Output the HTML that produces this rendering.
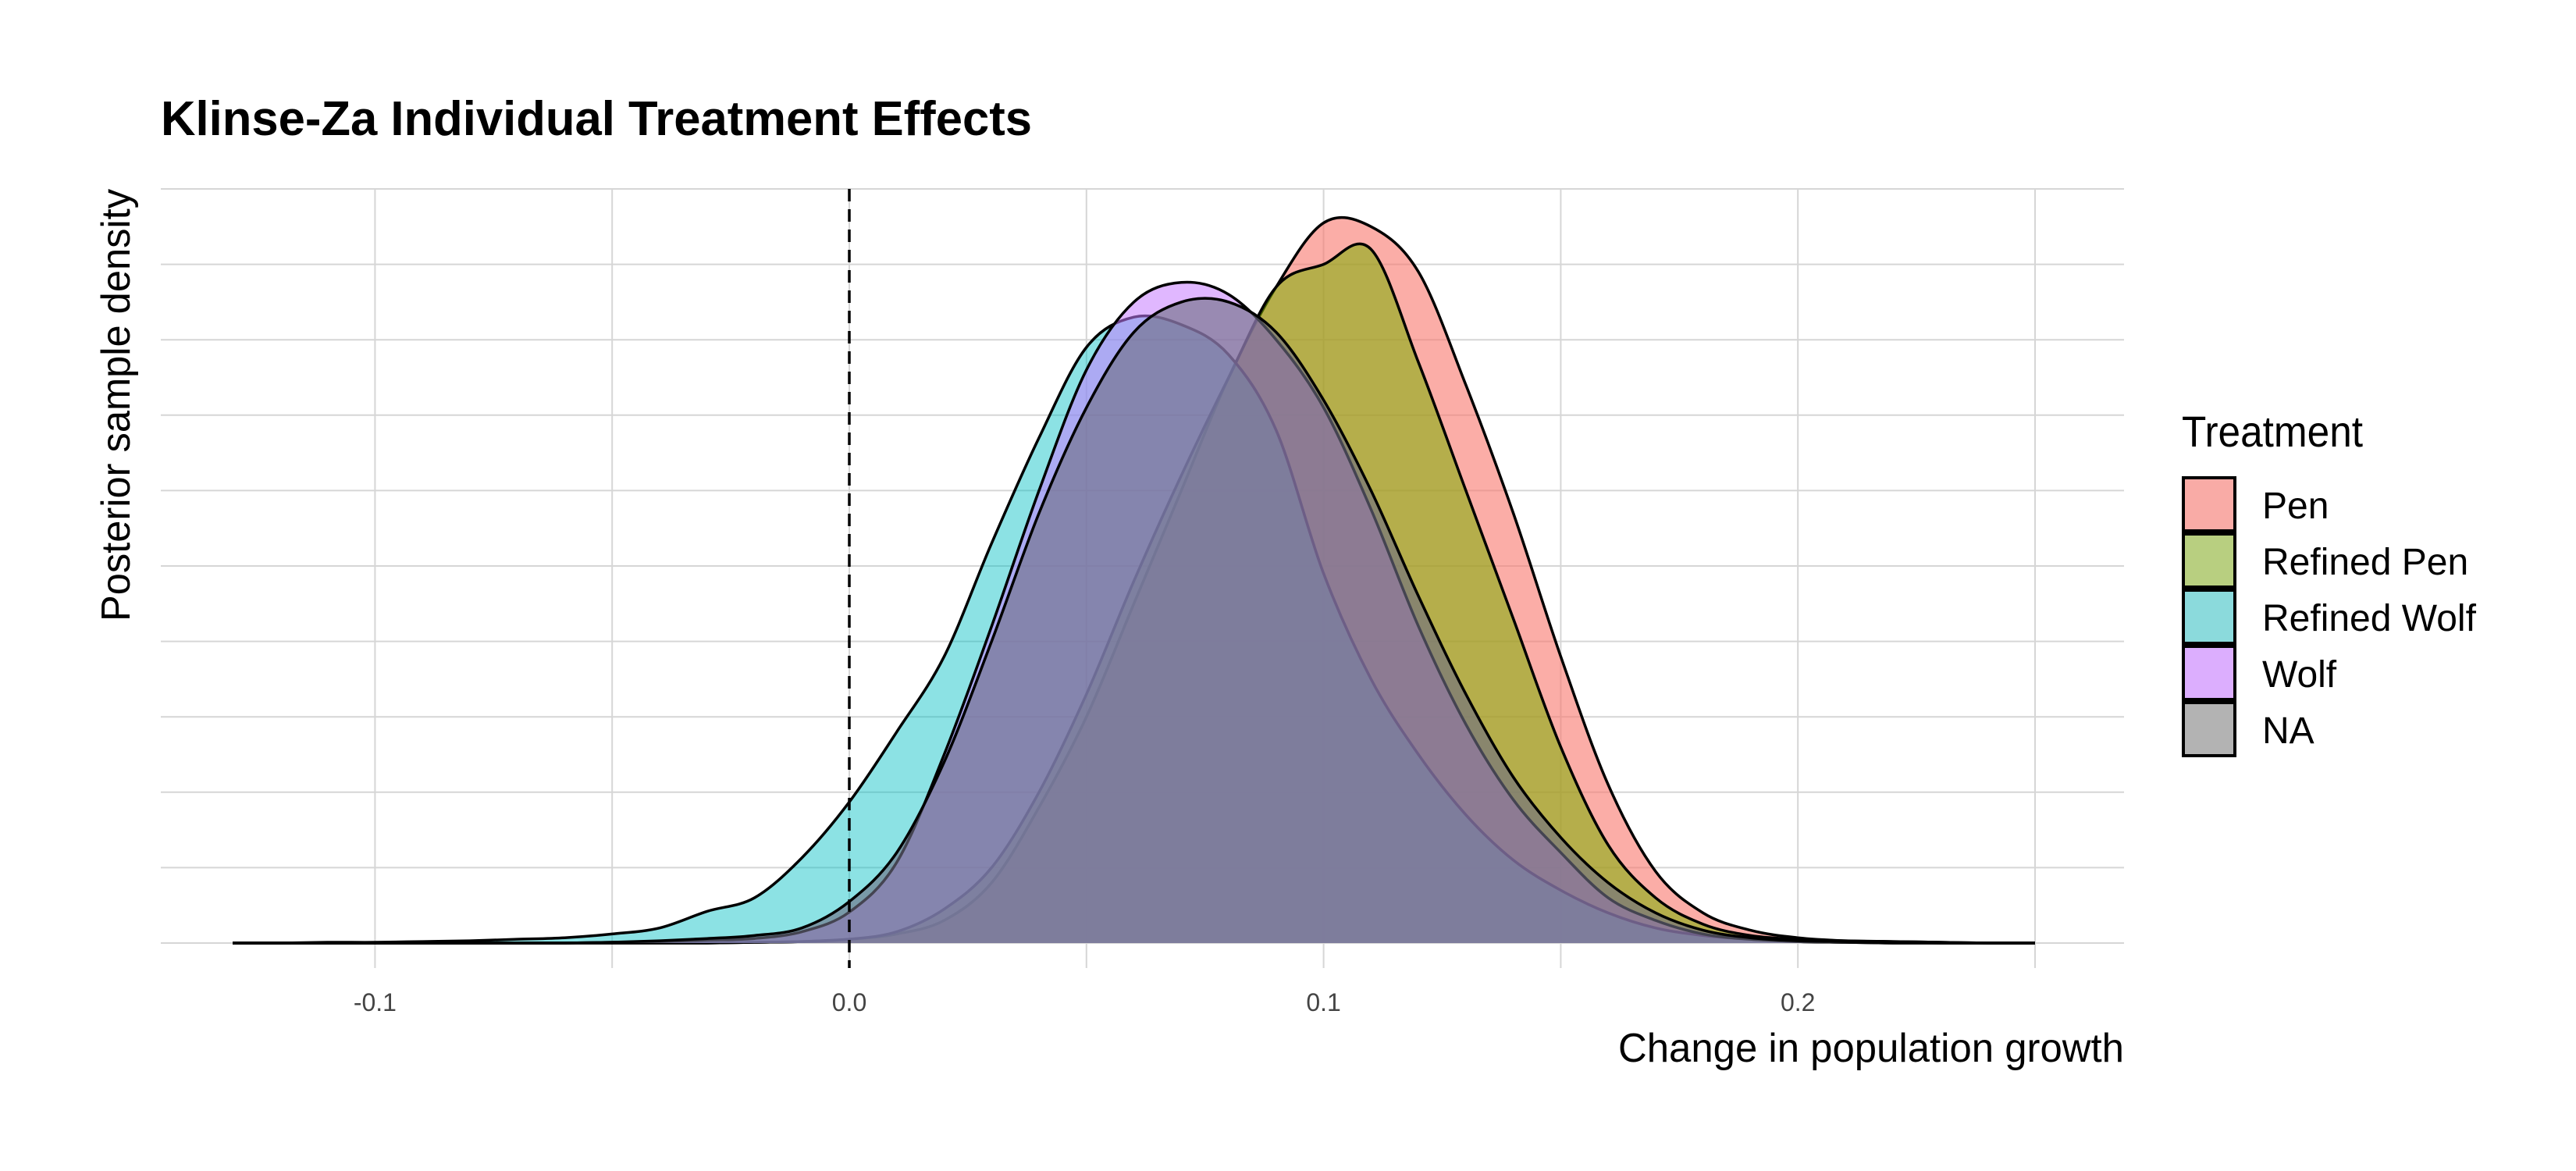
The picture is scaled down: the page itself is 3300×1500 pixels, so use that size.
<!DOCTYPE html>
<html><head><meta charset="utf-8"><style>
html,body{margin:0;padding:0;background:#fff}
svg{display:block}
text{font-family:"Liberation Sans",sans-serif;fill:#000}
</style></head><body>
<svg id="chart" width="3300" height="1500" viewBox="0 0 3300 1500">
<text x="206" y="173" font-size="62" font-weight="bold" textLength="1116" lengthAdjust="spacingAndGlyphs">Klinse-Za Individual Treatment Effects</text>
<g id="grid"></g>
<g id="series"></g>
<line id="zeroline" stroke="#000" stroke-width="3.5" stroke-dasharray="16,10"></line>
<g id="xticks"></g>
<text x="166" y="519" font-size="52" text-anchor="middle" transform="rotate(-90 166 519)" textLength="554" lengthAdjust="spacingAndGlyphs">Posterior sample density</text>
<text x="2721" y="1360" font-size="52" text-anchor="end" textLength="648" lengthAdjust="spacingAndGlyphs">Change in population growth</text>
<g>
<text x="2795" y="572" font-size="56" textLength="232" lengthAdjust="spacingAndGlyphs">Treatment</text>
<g id="legend-items"></g>
</g>
</svg>
<script>
const xs = [-0.13,-0.12,-0.11,-0.10,-0.09,-0.08,-0.07,-0.06,-0.05,-0.04,-0.03,-0.02,-0.01,0.00,0.01,0.02,0.03,0.04,0.05,0.06,0.07,0.08,0.09,0.10,0.11,0.12,0.13,0.14,0.15,0.16,0.17,0.18,0.19,0.20,0.21,0.22,0.23,0.24,0.25];
const seriesNames = ["Pen","Refined Pen","Refined Wolf","Wolf","NA"];
const penVals =        [0,0,0,0,0,0,0,0,0,0,0,0.01,0.02,0.05,0.12,0.3,0.8,1.8,3.0,4.5,6.0,7.5,8.7,9.55,9.5,8.9,7.4,5.7,3.8,2.1,0.95,0.4,0.17,0.07,0.03,0.02,0.01,0,0];
const refPenVals =     [0,0,0,0,0,0,0,0,0,0,0,0.01,0.02,0.05,0.15,0.45,1.0,2.0,3.3,4.8,6.2,7.5,8.7,9.0,9.2,7.7,6.0,4.3,2.6,1.3,0.6,0.25,0.1,0.05,0.03,0.02,0.01,0,0];
const refWolfVals =    [0,0,0.01,0.01,0.02,0.03,0.05,0.07,0.12,0.2,0.42,0.6,1.13,1.87,2.8,3.8,5.3,6.7,7.9,8.3,8.2,7.8,6.8,4.9,3.5,2.5,1.7,1.1,0.7,0.4,0.2,0.1,0.05,0.02,0.01,0,0,0,0];
const wolfVals =       [0,0,0,0,0,0,0,0,0.01,0.02,0.04,0.06,0.15,0.41,1.07,2.5,4.2,6.0,7.6,8.5,8.76,8.6,8.0,7.1,5.75,4.2,2.9,1.9,1.2,0.6,0.3,0.12,0.05,0.02,0.01,0,0,0,0];
const naVals =         [0,0,0,0,0,0,0,0,0.01,0.03,0.06,0.1,0.2,0.55,1.2,2.4,4.0,5.7,7.1,8.1,8.5,8.5,8.1,7.2,6.0,4.6,3.3,2.2,1.4,0.8,0.4,0.17,0.07,0.03,0.02,0.01,0,0,0];
const xTickVals = [-0.1,0.0,0.1,0.2];
const xTickLabels = ["-0.1","0.0","0.1","0.2"];
const fills = ["rgba(248,118,109,0.6)","rgba(124,174,0,0.55)","rgba(0,191,196,0.45)","rgba(199,124,255,0.55)","rgba(110,110,130,0.62)"];
const legendFills = ["#f9aba6","#b8cf80","#8bdadc","#dcaefe","#b3b3b3"];
const allVals = [penVals,refPenVals,refWolfVals,wolfVals,naVals];

const NS="http://www.w3.org/2000/svg";
const X0=1088, XS=6076, YB=1208, YU=96.6;
function sx(v){return X0+v*XS;}
function sy(d){return YB-d*YU;}
function mk(t,a,p){const e=document.createElementNS(NS,t);for(const k in a)e.setAttribute(k,a[k]);p.appendChild(e);return e;}

const grid=document.getElementById('grid');
for(let i=0;i<=10;i++){
  const l=mk('line',{x1:206,x2:2721,y1:sy(i),y2:sy(i),stroke:'#d6d6d6','stroke-width':2},grid);
  
  
}
for(let v=-0.1;v<=0.2501;v+=0.05){
  const l=mk('line',{x1:sx(v),x2:sx(v),y1:242,y2:1240,stroke:'#d6d6d6','stroke-width':2},grid);
  
  
}
const zl=document.getElementById('zeroline');
zl.setAttribute('x1',sx(0));zl.setAttribute('x2',sx(0));zl.setAttribute('y1',242);zl.setAttribute('y2',1240);

function pathFor(vals){
  const pts=xs.map((x,i)=>[sx(x),sy(vals[i])]);
  let d=`M${pts[0][0]},${YB} L${pts[0][0]},${pts[0][1]}`;
  for(let i=0;i<pts.length-1;i++){
    const p0=pts[Math.max(0,i-1)],p1=pts[i],p2=pts[i+1],p3=pts[Math.min(pts.length-1,i+2)];
    const c1=[p1[0]+(p2[0]-p0[0])/6,Math.min(YB,p1[1]+(p2[1]-p0[1])/6)];
    const c2=[p2[0]-(p3[0]-p1[0])/6,Math.min(YB,p2[1]-(p3[1]-p1[1])/6)];
    d+=` C${c1[0]},${c1[1]} ${c2[0]},${c2[1]} ${p2[0]},${p2[1]}`;
  }
  d+=` L${pts[pts.length-1][0]},${YB}`;
  return d;
}
const sg=document.getElementById('series');
allVals.forEach((vals,i)=>{
  const p=mk('path',{d:pathFor(vals),fill:fills[i],stroke:'#000','stroke-width':3.5,'stroke-linejoin':'round'},sg);
  
  
});
const xt=document.getElementById('xticks');
xTickVals.forEach((v,i)=>{
  const t=mk('text',{x:sx(v),y:1295,'font-size':32,'text-anchor':'middle'},xt);
  t.style.fill='#444';
  t.textContent=xTickLabels[i];
  
  
});
const lg=document.getElementById('legend-items');
seriesNames.forEach((n,i)=>{
  const y=612+i*72;
  const r=mk('rect',{x:2797,y:y,width:66,height:68,fill:legendFills[i],stroke:'#000','stroke-width':4},lg);
  
  
  const t=mk('text',{x:2898,y:y+52,'font-size':48},lg);
  t.textContent=n;
  
  
});
</script>
</body></html>
